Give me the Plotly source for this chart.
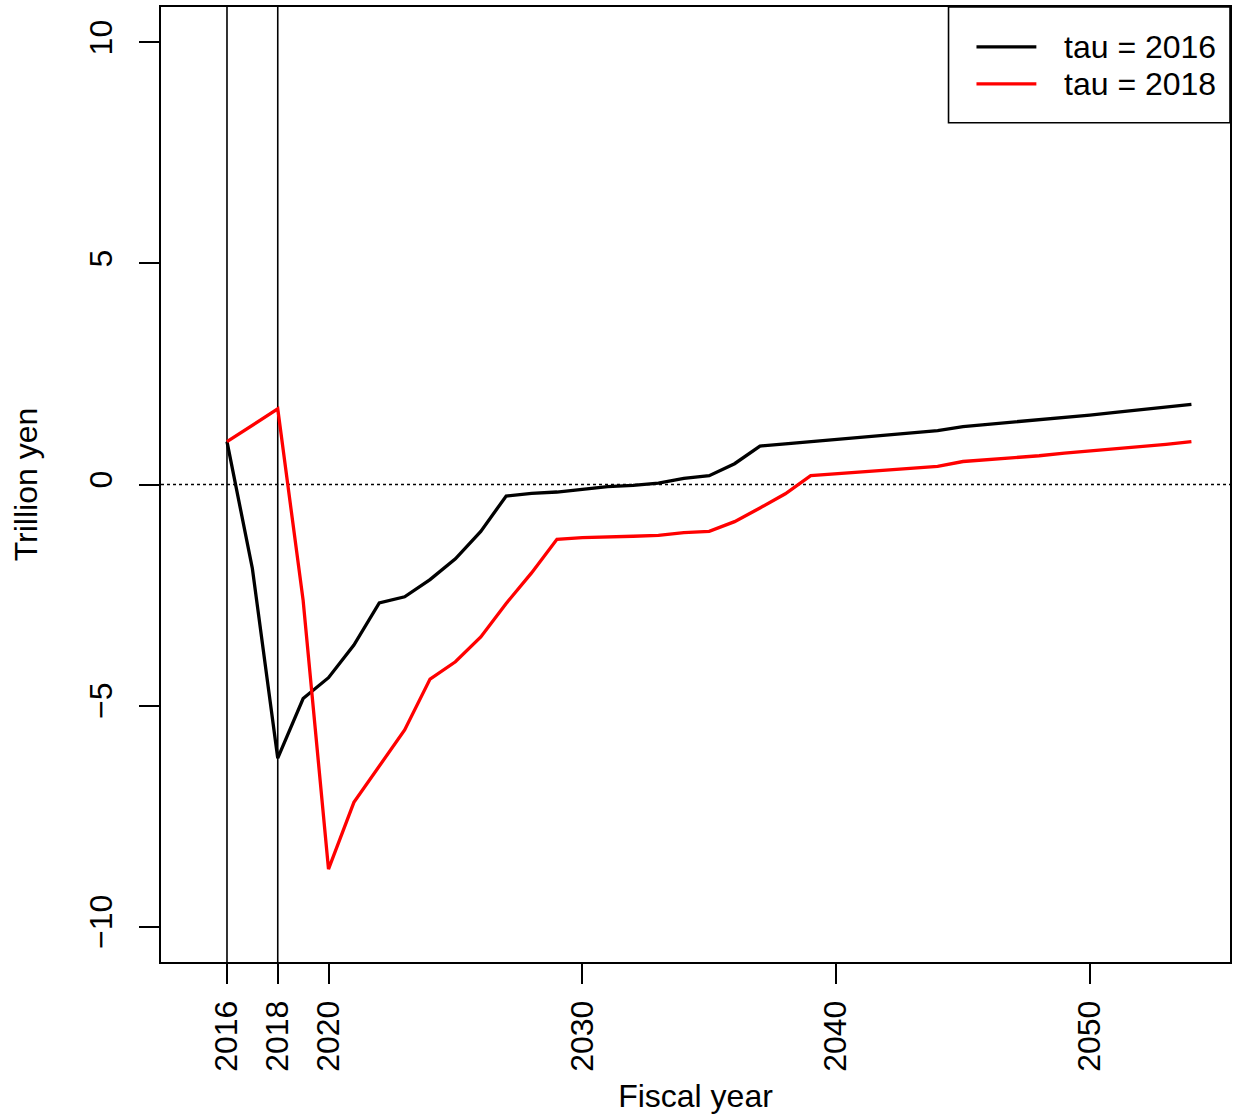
import plotly.graph_objects as go

years = list(range(2016, 2055))

tau2016 = [0.97, -1.90, -6.19, -4.84, -4.37, -3.63, -2.68, -2.54, -2.15, -1.68,
           -1.06, -0.26, -0.20, -0.17, -0.11, -0.05, -0.02, 0.03, 0.14, 0.20,
           0.47, 0.87, 0.92, 0.97, 1.02, 1.06, 1.12, 1.17, 1.22, 1.31,
           1.36, 1.41, 1.47, 1.52, 1.57, 1.63, 1.69, 1.75, 1.81]

tau2018 = [0.97, 1.35, 1.71, -2.62, -8.70, -7.19, -6.38, -5.55, -4.40, -4.01,
           -3.45, -2.69, -2.00, -1.24, -1.20, -1.19, -1.17, -1.15, -1.09, -1.06,
           -0.84, -0.53, -0.21, 0.20, 0.24, 0.29, 0.33, 0.36, 0.41, 0.52,
           0.56, 0.61, 0.65, 0.71, 0.76, 0.80, 0.86, 0.91, 0.97]

series_names = ["tau = 2016", "tau = 2018"]
series_colors = ["black", "#ff0000"]

x_ticks = [2016, 2018, 2020, 2030, 2040, 2050]
y_ticks = [-10, -5, 0, 5, 10]
vlines = [2016, 2018]

FONT = "Liberation Sans, Arial, sans-serif"
FS = 32

W, H = 1237, 1120
ML, MR, MT, MB = 161, 5, 5, 158
PW, PH = W - ML - MR, H - MT - MB


def px_x(px):
    return (px - ML) / PW


def px_y(py):
    return (H - MB - py) / PH


fig = go.Figure()
for name, vals, col in zip(series_names, [tau2016, tau2018], series_colors):
    fig.add_trace(go.Scatter(x=years, y=vals, mode="lines", name=name,
                             line=dict(color=col, width=3.3), showlegend=False))

for v in vlines:
    fig.add_shape(type="line", x0=v, x1=v, y0=0, y1=1, xref="x", yref="paper",
                  line=dict(color="black", width=1.6), layer="below")
fig.add_shape(type="line", x0=0, x1=1, y0=0, y1=0, xref="paper", yref="y",
              line=dict(color="black", width=1.3, dash="dot"), layer="below")

# legend box (drawn manually to match the reference layout)
fig.add_shape(type="rect", xref="paper", yref="paper",
              x0=px_x(950), x1=px_x(1232), y0=px_y(121), y1=px_y(5),
              line=dict(color="black", width=1.6), fillcolor="white", layer="above")
row_y = [45, 82]
for name, col, ry in zip(series_names, series_colors, row_y):
    fig.add_shape(type="line", xref="paper", yref="paper",
                  x0=px_x(978), x1=px_x(1038), y0=px_y(ry), y1=px_y(ry),
                  line=dict(color=col, width=3.3), layer="above")
    fig.add_annotation(xref="paper", yref="paper", x=px_x(1064), y=px_y(ry),
                       xanchor="left", yanchor="middle", text=name,
                       showarrow=False, font=dict(size=FS, color="black"))

fig.update_layout(
    width=W, height=H,
    margin=dict(l=ML, r=MR, t=MT, b=MB),
    paper_bgcolor="white", plot_bgcolor="white",
    font=dict(family=FONT, size=FS, color="black"),
    showlegend=False,
    xaxis=dict(range=[2013.4, 2055.52], tickmode="array", tickvals=x_ticks,
               ticktext=[str(t) for t in x_ticks], tickangle=-90,
               ticks="outside", ticklen=20, tickwidth=1.6, tickcolor="black",
               ticklabelstandoff=4,
               showline=True, linecolor="black", linewidth=1.6, mirror=True,
               showgrid=False, zeroline=False,
               title=dict(text="Fiscal year", font=dict(size=FS), standoff=14)),
    yaxis=dict(range=[-10.8, 10.8], tickmode="array", tickvals=y_ticks,
               ticktext=["\u221210", "\u22125", "0", "5", "10"], tickangle=-90,
               ticks="outside", ticklen=20, tickwidth=1.6, tickcolor="black",
               ticklabelstandoff=14,
               showline=True, linecolor="black", linewidth=1.6, mirror=True,
               showgrid=False, zeroline=False,
               title=dict(text="Trillion yen", font=dict(size=FS), standoff=36)),
)

fig.write_html("out.html")
